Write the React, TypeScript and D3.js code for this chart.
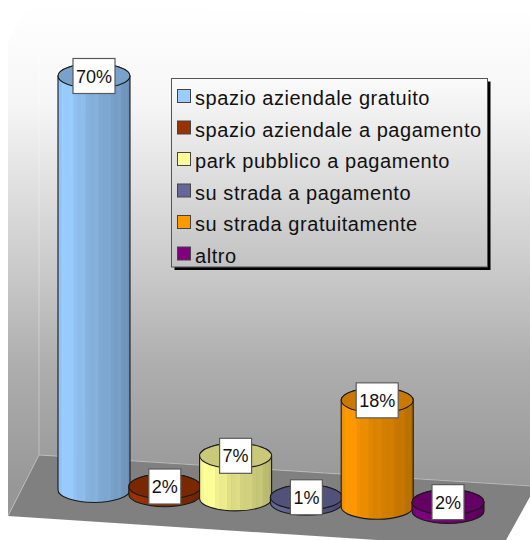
import React from "react";
import * as d3 from "d3";

const categories = ["spazio aziendale gratuito","spazio aziendale a pagamento","park pubblico a pagamento","su strada a pagamento","su strada gratuitamente","altro"];
const values = [70, 1.3, 7.2, 0.9, 18, 1.5];
const valueLabels = ["70%","2%","7%","1%","18%","2%"];
const colors = ["#99CCFF","#993300","#FFFF99","#666699","#FF9900","#800080"];

const W = 530, H = 540;
const font = "'Liberation Sans', Arial, sans-serif";
const x = d3.scaleBand<string>().domain(categories).range([58.6, 483.4]).padding(0);
const h = d3.scaleLinear().domain([0, 70]).range([0, 414]);
const baseY = d3.scaleLinear().domain([94, 448]).range([490, 511]);
const rx = 36, ry = 12.5, facets = 26;

const shade = (c: string, k: number) => d3.interpolateRgb("#000", c)(k);
const wallPts = "28,6 530,14 530,486 39,455 8,516 8,42";
const floorPts = "39,455 536,486 506,540 500,548 8,516";

function Cylinder({ i }: { i: number }) {
  const cat = categories[i];
  const cx = x(cat)! + x.bandwidth() / 2;
  const by = baseY(cx);
  const ty = by - h(values[i]);
  const col = colors[i];
  const outline = `M${cx - rx},${ty}V${by}A${rx},${ry} 0 0 0 ${cx + rx},${by}V${ty}A${rx},${ry} 0 0 0 ${cx - rx},${ty}Z`;
  const brightness = d3.scaleLinear().domain([0, 0.22, 0.45, 1]).range([0.93, 1, 0.86, 0.66]);
  const edges = d3.range(facets + 1).map(k => cx - rx * Math.cos((k / facets) * Math.PI));
  return (
    <g>
      <clipPath id={`c${i}`}><path d={outline} /></clipPath>
      <g clipPath={`url(#c${i})`}>
        {d3.range(facets).map(k => (
          <rect key={k} x={edges[k]} width={edges[k + 1] - edges[k] + 0.6} y={ty - ry} height={by - ty + 2 * ry + 2}
            fill={shade(col, brightness(k / facets) + (k % 3 === 1 ? 0.025 : 0))} />
        ))}
      </g>
      <path d={outline} fill="none" stroke="#1a1a1a" strokeWidth={1.1} />
      <ellipse cx={cx} cy={ty} rx={rx} ry={ry} fill={shade(col, 0.79)} stroke="#1a1a1a" strokeWidth={1.1} />
    </g>
  );
}

function Label({ i }: { i: number }) {
  const cat = categories[i];
  const cx = x(cat)! + x.bandwidth() / 2;
  const ty = baseY(cx) - h(values[i]);
  const w = valueLabels[i].length === 3 ? 42 : 32;
  return (
    <g>
      <rect x={cx - w / 2} y={ty - 17.5} width={w} height={35} fill="#fff" stroke="#5a5a5a" strokeWidth={1.2} />
      <text x={cx} y={ty + 6.5} textAnchor="middle" fontSize={18} fontFamily={font} fill="#111">{valueLabels[i]}</text>
    </g>
  );
}

const legendX = 171.5, legendY = 78.5, legendW = 316, legendH = 188.5, rowH = 31.5, firstRow = 97.5;

export default function App() {
  return (
    <svg width={W} height={H} viewBox={`0 0 ${W} ${H}`} style={{ position: "absolute", left: 0, top: 0, display: "block", background: "#fff" }}>
      <defs>
        <linearGradient id="wall" gradientUnits="userSpaceOnUse" x1={0} x2={0} y1={6} y2={490}>
          <stop offset="0" stopColor="#ffffff" />
          <stop offset="0.2" stopColor="#f6f6f6" />
          <stop offset="0.545" stopColor="#cacaca" />
          <stop offset="0.75" stopColor="#adadad" />
          <stop offset="1" stopColor="#979797" />
        </linearGradient>
        <linearGradient id="legendFill" x1={0} x2={0} y1={0} y2={1}>
          <stop offset="0" stopColor="#fbfbfb" />
          <stop offset="1" stopColor="#c2c2c2" />
        </linearGradient>
      </defs>
      <polygon points={wallPts} fill="url(#wall)" />
      <line x1={39} x2={39} y1={6} y2={455} stroke="#fff" strokeOpacity={0.35} />
      <polygon points={floorPts} fill="#808080" />
      <polyline points="8,516 39,455 530,486" fill="none" stroke="#c4c4c4" strokeOpacity={0.7} strokeWidth={1} />
      {categories.map((_, i) => <Cylinder key={i} i={i} />)}
      {categories.map((_, i) => <Label key={i} i={i} />)}
      <rect x={legendX + 3} y={legendY + 3} width={legendW} height={legendH} fill="#000" />
      <rect x={legendX} y={legendY} width={legendW} height={legendH} fill="url(#legendFill)" stroke="#555" strokeWidth={1} />
      {categories.map((c, i) => (
        <g key={c}>
          <rect x={177.5} y={firstRow + i * rowH - 8} width={13} height={13} fill={colors[i]} stroke="#444" strokeWidth={1} />
          <text x={195} y={firstRow + i * rowH + 7.5} fontSize={20} letterSpacing={0.55} fontFamily={font} fill="#111">{c}</text>
        </g>
      ))}
    </svg>
  );
}
